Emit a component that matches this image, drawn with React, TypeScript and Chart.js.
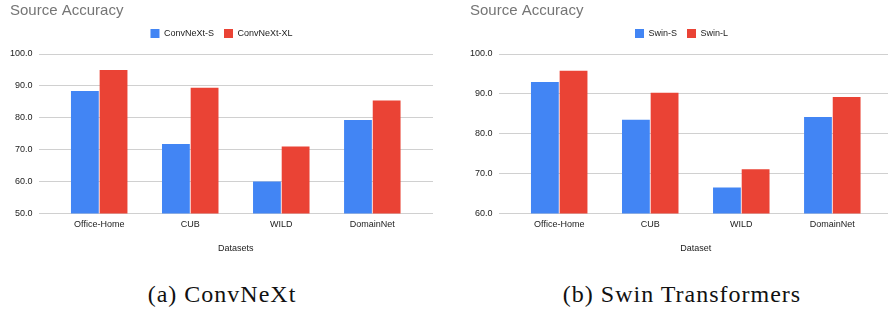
import React, { useEffect, useRef } from "react";
import { Chart, registerables } from "chart.js";
Chart.register(...registerables);

const categories = ["Office-Home", "CUB", "WILD", "DomainNet"];
const convnextS = [88.4, 71.8, 60.0, 79.3];
const convnextXL = [95.0, 89.4, 71.0, 85.4];
const swinS = [93.0, 83.5, 66.5, 84.2];
const swinL = [95.8, 90.3, 71.1, 89.2];
const leftYTicks = [50, 100];
const rightYTicks = [60, 100];

const BLUE = "#4285F4";
const RED = "#EA4335";
const FONT = "'Liberation Sans', Arial, sans-serif";

type PanelProps = {
  seriesNames: [string, string];
  series: [number[], number[]];
  yRange: number[];
  xTitle: string;
};

const legendMargin = {
  id: "legendMargin",
  afterInit(chart: any) {
    const lg = chart.legend;
    if (!lg) return;
    const orig = lg.fit;
    lg.fit = function () {
      orig.call(this);
      this.height += 6;
    };
  },
};

function Panel({ seriesNames, series, yRange, xTitle }: PanelProps) {
  const ref = useRef<HTMLCanvasElement | null>(null);
  useEffect(() => {
    if (!ref.current) return;
    const toPts = (vals: number[]) => categories.map((_, i) => ({ x: i, y: vals[i] }));
    const chart = new Chart(ref.current, {
      type: "bar",
      data: {
        datasets: [
          {
            label: seriesNames[0],
            data: toPts(series[0]),
            backgroundColor: BLUE,
            categoryPercentage: 0.63,
            barPercentage: 0.97,
          },
          {
            label: seriesNames[1],
            data: toPts(series[1]),
            backgroundColor: RED,
            categoryPercentage: 0.63,
            barPercentage: 0.97,
          },
        ] as any,
      },
      plugins: [legendMargin],
      options: {
        animation: false,
        responsive: false,
        layout: { padding: { left: 10, right: 11, top: 0, bottom: 8 } },
        plugins: {
          title: {
            display: true,
            text: "Source Accuracy",
            align: "start",
            color: "#757575",
            font: { family: FONT, size: 15, weight: "normal", lineHeight: 1 },
            padding: { top: 3, bottom: 1 },
          },
          legend: {
            display: true,
            position: "top",
            labels: {
              boxWidth: 9,
              boxHeight: 9,
              color: "#222",
              font: { family: FONT, size: 9 },
              padding: 10,
            },
          },
          tooltip: { enabled: false },
        },
        scales: {
          x: {
            type: "linear",
            min: -2 / 3,
            max: 11 / 3,
            offset: false,
            grid: { display: false, drawTicks: false },
            border: { display: false },
            afterBuildTicks: (axis: any) => {
              axis.ticks = categories.map((_, i) => ({ value: i }));
            },
            ticks: {
              autoSkip: false,
              maxRotation: 0,
              color: "#222",
              font: { family: FONT, size: 9 },
              padding: 6,
              callback: (v: any) => categories[Number(v)] ?? "",
            },
            title: {
              display: true,
              text: xTitle,
              color: "#222",
              font: { family: FONT, size: 9 },
              padding: { top: 7, bottom: 0 },
            },
          },
          y: {
            min: yRange[0],
            max: yRange[1],
            grid: { color: "#d0d0d0", drawTicks: false },
            border: { display: false },
            afterFit: (axis: any) => {
              axis.width = axis.width - 6;
            },
            ticks: {
              stepSize: 10,
              color: "#222",
              font: { family: FONT, size: 9 },
              padding: 6,
              callback: (v: any) => Number(v).toFixed(1),
            },
          },
        },
      } as any,
    });
    return () => chart.destroy();
  }, []);
  return <canvas ref={ref} width={444} height={262} style={{ display: "block" }} />;
}

const captionStyle: React.CSSProperties = {
  position: "absolute",
  top: 282,
  width: 444,
  textAlign: "center",
  fontFamily: "'Liberation Serif', 'Times New Roman', serif",
  fontSize: 24,
  lineHeight: "24px",
  letterSpacing: 1,
  color: "#111",
};

export default function App() {
  return (
    <div
      style={{
        position: "fixed",
        left: 0,
        top: 0,
        width: 888,
        height: 311,
        overflow: "hidden",
        background: "#fff",
      }}
    >
      <div style={{ position: "absolute", left: 0, top: 0 }}>
        <Panel
          seriesNames={["ConvNeXt-S", "ConvNeXt-XL"]}
          series={[convnextS, convnextXL]}
          yRange={leftYTicks}
          xTitle="Datasets"
        />
      </div>
      <div style={{ position: "absolute", left: 460, top: 0 }}>
        <Panel
          seriesNames={["Swin-S", "Swin-L"]}
          series={[swinS, swinL]}
          yRange={rightYTicks}
          xTitle="Dataset"
        />
      </div>
      <div style={{ ...captionStyle, left: 0 }}>(a) ConvNeXt</div>
      <div style={{ ...captionStyle, left: 460 }}>(b) Swin Transformers</div>
    </div>
  );
}
